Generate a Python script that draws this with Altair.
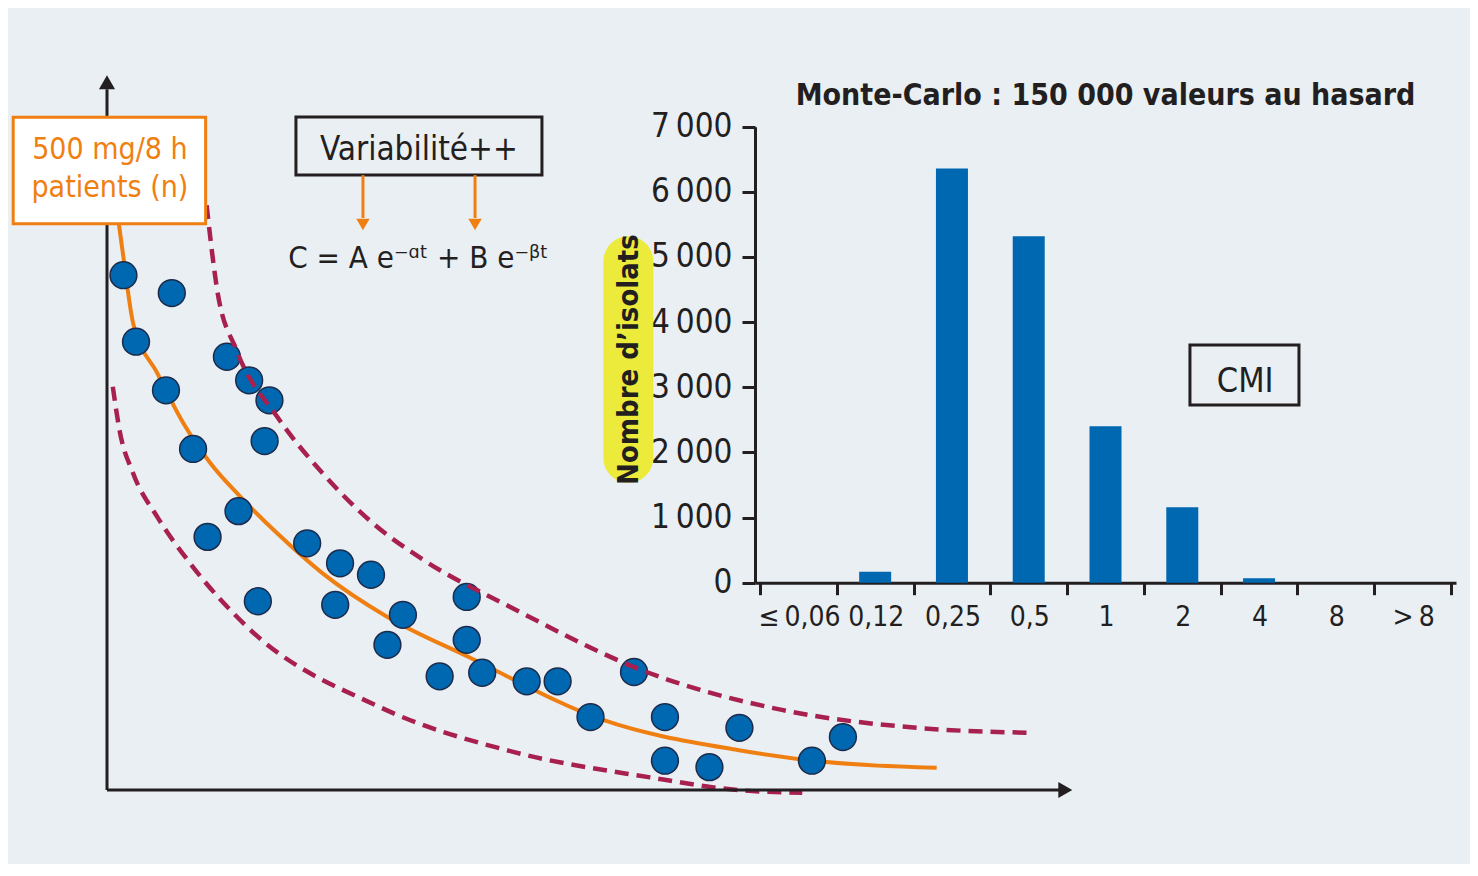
import json
import altair as alt
import pandas as pd

# ---------------- data ----------------
# left panel: individual concentration-time points (arbitrary units)
pt_t = [0.17, 0.67, 0.30, 0.61, 0.89, 1.24, 1.47, 1.68, 1.63, 1.36, 1.04, 1.56,
        2.07, 2.41, 2.73, 2.36, 3.06, 2.90, 3.72, 3.72, 3.44, 3.88, 4.34, 4.66,
        5.45, 5.00, 5.77, 6.54, 5.77, 6.23, 7.29, 7.61]
pt_c = [7.20, 6.95, 6.27, 5.59, 4.77, 6.06, 5.73, 5.45, 4.88, 3.90, 3.54, 2.64,
        3.45, 3.17, 3.01, 2.59, 2.45, 2.03, 2.70, 2.10, 1.59, 1.64, 1.52, 1.52,
        1.65, 1.02, 1.02, 0.87, 0.41, 0.32, 0.41, 0.74]

# fitted bi-exponential curve
fit_t = [0.11, 0.17, 0.27, 0.52, 0.79, 1.07, 1.38, 1.76, 2.23, 2.90, 3.74, 5.13, 6.52, 7.44, 8.58]
fit_c = [8.04, 7.45, 6.53, 5.83, 5.13, 4.57, 4.10, 3.59, 3.03, 2.42, 1.86, 0.98, 0.56, 0.39, 0.31]

# upper / lower variability envelopes
hi_t = [1.03, 1.14, 1.34, 1.76, 2.23, 2.75, 3.27, 4.17, 5.60, 6.98, 8.37, 9.55]
hi_c = [8.18, 6.99, 6.15, 5.22, 4.43, 3.73, 3.22, 2.56, 1.64, 1.12, 0.87, 0.80]
lo_t = [0.06, 0.13, 0.27, 0.52, 0.86, 1.45, 2.82, 4.21, 5.60, 6.52, 7.19]
lo_c = [5.64, 5.03, 4.43, 3.82, 3.17, 2.28, 1.16, 0.53, 0.18, 0.00, -0.04]

# right panel: Monte-Carlo histogram of MIC classes
cmi_labels = ["≤\u20090,06", "0,12", "0,25", "0,5", "1", "2", "4", "8", ">\u20098"]
isolates = [0, 170, 6360, 5320, 2400, 1160, 70, 0, 0]
y_ticks = [0, 1000, 2000, 3000, 4000, 5000, 6000, 7000]

# texts
title_text = "Monte-Carlo : 150 000 valeurs au hasard"
y_title = "Nombre d’isolats"
dose_lines = ["500 mg/8 h", "patients (n)"]
var_text = "Variabilité++"
formula = "C = A e⁻ᵅᵗ + B e⁻ᵝᵗ"
cmi_text = "CMI"

# ---------------- styles ----------------
BG = "#EAEFF4"
INK = "#231F20"
BLUE = "#0067B1"
ORANGE = "#F07F12"
CRIMSON = "#A8204E"
YELLOW = "#ECEB3C"
FONT = "'DejaVu Sans Condensed', sans-serif"
W, H = 1462, 856

pts = pd.DataFrame({"t": pt_t, "c": pt_c})
fit = pd.DataFrame({"t": fit_t, "c": fit_c})
hi = pd.DataFrame({"t": hi_t, "c": hi_c})
lo = pd.DataFrame({"t": lo_t, "c": lo_c})
hist = pd.DataFrame({"cmi": cmi_labels, "n": isolates})
hist["pos"] = hist.index + 0.5
ONE = pd.DataFrame({"k": [0]})

# ---------------- left panel (pharmacokinetics) ----------------
LX = alt.Scale(domain=[0, 10], range=[99, 1066], nice=False, zero=False)
LY = alt.Scale(domain=[0, 10], range=[782, 67], nice=False, zero=False)


def lx(v):
    return alt.X(datum=v, scale=LX, axis=None)


def ly(v):
    return alt.Y(datum=v, scale=LY, axis=None)


enc_tc = dict(x=alt.X("t:Q", scale=LX, axis=None), y=alt.Y("c:Q", scale=LY, axis=None))

fit_line = alt.Chart(fit).mark_line(color=ORANGE, strokeWidth=4, interpolate="monotone").encode(**enc_tc)
points = alt.Chart(pts).mark_circle(size=720, color=BLUE, stroke="#1D2B4A", strokeWidth=1.5, opacity=1).encode(**enc_tc)
hi_line = alt.Chart(hi).mark_line(color=CRIMSON, strokeWidth=4.5, strokeDash=[14, 8], interpolate="monotone").encode(**enc_tc)
lo_line = alt.Chart(lo).mark_line(color=CRIMSON, strokeWidth=4.5, strokeDash=[14, 8], interpolate="monotone").encode(**enc_tc)

y_axis_line = alt.Chart(ONE).mark_rule(color=INK, strokeWidth=3).encode(x=lx(0), y=ly(0), y2=alt.Y2(datum=9.8))
x_axis_line = alt.Chart(ONE).mark_rule(color=INK, strokeWidth=3).encode(x=lx(0), x2=alt.X2(datum=9.85), y=ly(0))
y_arrow = alt.Chart(ONE).mark_point(shape="triangle-up", filled=True, size=260, color=INK, opacity=1).encode(x=lx(0), y=ly(9.9))
x_arrow = alt.Chart(ONE).mark_point(shape="triangle-right", filled=True, size=260, color=INK, opacity=1).encode(x=lx(9.91), y=ly(0))

dose_box = alt.Chart(ONE).mark_rect(fill="white", stroke=ORANGE, strokeWidth=3).encode(
    x=lx(-0.97), x2=alt.X2(datum=1.02), y=ly(9.41), y2=alt.Y2(datum=7.92))
dose_label = alt.Chart(ONE).mark_text(text=dose_lines, font=FONT, fontSize=30, lineHeight=38, color=ORANGE,
                                      align="center", baseline="alphabetic").encode(x=lx(0.03), y=ly(8.825))

var_box = alt.Chart(ONE).mark_rect(fill=BG, fillOpacity=0, stroke=INK, strokeWidth=3).encode(
    x=lx(1.954), x2=alt.X2(datum=4.498), y=ly(9.413), y2=alt.Y2(datum=8.601))
var_label = alt.Chart(ONE).mark_text(text=var_text, font=FONT, fontSize=33, color=INK,
                                     align="center", baseline="alphabetic").encode(x=lx(3.226), y=ly(8.81))

arrow_x = pd.DataFrame({"t": [2.647, 3.806]})
arrow_shaft = alt.Chart(arrow_x).mark_rule(color=ORANGE, strokeWidth=3).encode(
    x=alt.X("t:Q", scale=LX, axis=None), y=ly(8.60), y2=alt.Y2(datum=8.0))
arrow_head = alt.Chart(arrow_x).mark_point(shape="triangle-down", filled=True, size=180, color=ORANGE, opacity=1).encode(
    x=alt.X("t:Q", scale=LX, axis=None), y=ly(7.91))
formula_label = alt.Chart(ONE).mark_text(text=formula, font=FONT, fontSize=31, color=INK,
                                         align="center", baseline="alphabetic").encode(x=lx(3.22), y=ly(7.30))

left = alt.layer(fit_line, points, hi_line, lo_line, y_axis_line, x_axis_line, y_arrow, x_arrow,
                 dose_box, dose_label, var_box, var_label, arrow_shaft, arrow_head, formula_label)

# ---------------- right panel (histogram) ----------------
RX = alt.Scale(domain=[0, 9], range=[747, 1448], nice=False, zero=False)
RY = alt.Scale(domain=[0, 7000], range=[574.7, 118.7], nice=False, zero=False)
step_px = (1448 - 747) / 9


def rx(v):
    return alt.X(datum=v, scale=RX)


def ry(v):
    return alt.Y(datum=v, scale=RY)


label_arr = json.dumps(cmi_labels, ensure_ascii=False)
x_axis = alt.Axis(orient="bottom", offset=574.7 - H, values=list(range(len(cmi_labels) + 1)),
                  labelExpr=f"datum.value < {len(cmi_labels)} ? ({label_arr})[datum.value] : ''",
                  labelOffset=step_px / 2, labelFlush=False, labelOverlap=False, labelBound=False,
                  labelFont=FONT, labelFontSize=28, labelColor=INK, labelPadding=9,
                  tickSize=12, tickWidth=3, tickColor=INK, domainWidth=3, domainColor=INK,
                  grid=False, title=None)
y_axis = alt.Axis(orient="left", offset=-747, values=y_ticks,
                  labelExpr="replace(format(datum.value, ','), ',', '\u2009')",
                  labelFont=FONT, labelFontSize=33, labelColor=INK, labelPadding=10,
                  labelFlush=False, labelOverlap=False, labelBound=False,
                  tickSize=13, tickWidth=3, tickColor=INK, domainWidth=3, domainColor=INK,
                  grid=False, title=None)

bars = alt.Chart(hist).mark_bar(size=32, color=BLUE, orient="vertical").encode(
    x=alt.X("pos:Q", scale=RX, axis=x_axis),
    y=alt.Y("n:Q", scale=RY, axis=y_axis),
    y2=alt.Y2(datum=0))

highlight = alt.Chart(ONE).mark_rect(color=YELLOW, cornerRadius=25).encode(
    x=rx(-2.04), x2=alt.X2(datum=-1.39), y=ry(5318), y2=alt.Y2(datum=1534))
ytitle = alt.Chart(ONE).mark_text(text=y_title, font=FONT, fontSize=29, fontWeight="bold", angle=270,
                                  color=INK, align="center", baseline="middle").encode(x=rx(-1.70), y=ry(3426))
title = alt.Chart(ONE).mark_text(text=title_text, font=FONT, fontSize=30, fontWeight="bold",
                                 color=INK, align="center", baseline="alphabetic").encode(x=rx(4.5), y=ry(7333))
cmi_box = alt.Chart(ONE).mark_rect(fill=BG, fillOpacity=0, stroke=INK, strokeWidth=3).encode(
    x=rx(5.60), x2=alt.X2(datum=7.02), y=ry(3649), y2=alt.Y2(datum=2728))
cmi_label = alt.Chart(ONE).mark_text(text=cmi_text, font=FONT, fontSize=34, color=INK,
                                     align="center", baseline="alphabetic").encode(x=rx(6.32), y=ry(2927))

right = alt.layer(bars, highlight, ytitle, title, cmi_box, cmi_label)

chart = alt.layer(left, right).resolve_scale(x="independent", y="independent").properties(
    width=W, height=H, padding=0, background=BG,
    autosize=alt.AutoSizeParams(type="none"),
).configure_view(strokeWidth=0)

chart.save("out.html", embed_options={"renderer": "svg", "actions": False})
